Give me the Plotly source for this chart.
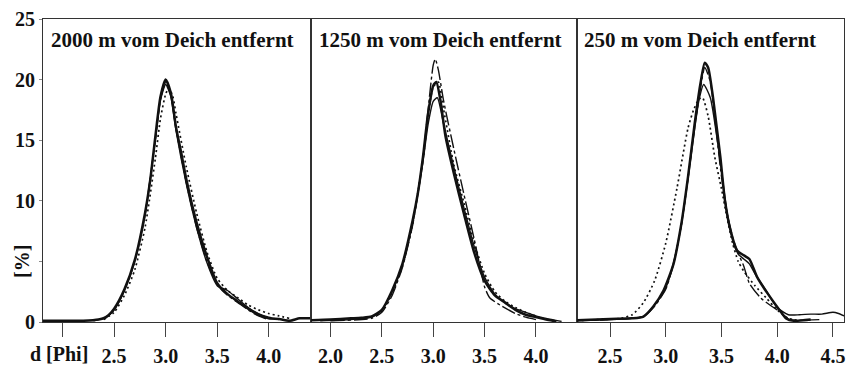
import plotly.graph_objects as go

# ---------------- data ----------------
# Panel 1: 2000 m vom Deich entfernt
p1_thick_x = [1.81, 2.0, 2.2, 2.35, 2.42, 2.5, 2.6, 2.7, 2.8, 2.85, 2.9, 2.95, 3.0, 3.05, 3.1, 3.15, 3.2, 3.3, 3.4, 3.5, 3.6, 3.7, 3.8, 3.9, 4.0, 4.1, 4.2, 4.3, 4.41]
p1_thick_y = [0.1, 0.1, 0.1, 0.2, 0.4, 1.1, 2.7, 5.1, 9.0, 11.7, 15.3, 18.6, 20.0, 18.9, 16.1, 14.0, 11.8, 8.2, 5.4, 3.2, 2.3, 1.7, 1.1, 0.6, 0.3, 0.25, 0.1, 0.3, 0.3]
p1_thin_x = [2.3, 2.42, 2.5, 2.6, 2.7, 2.8, 2.9, 2.95, 3.0, 3.05, 3.1, 3.2, 3.3, 3.4, 3.5, 3.6, 3.7, 3.8, 3.9, 4.0, 4.1]
p1_thin_y = [0.1, 0.4, 1.0, 2.6, 5.0, 8.8, 15.0, 18.3, 19.6, 18.6, 15.8, 11.4, 7.8, 4.9, 3.0, 2.6, 1.9, 1.2, 0.7, 0.4, 0.2]
p1_dot_x = [2.4, 2.5, 2.6, 2.7, 2.8, 2.9, 2.95, 3.0, 3.03, 3.07, 3.1, 3.2, 3.3, 3.4, 3.5, 3.6, 3.7, 3.8, 3.9, 4.0, 4.1, 4.2]
p1_dot_y = [0.2, 0.8, 2.2, 4.3, 7.8, 13.5, 16.8, 18.8, 19.3, 18.6, 17.2, 12.8, 9.0, 5.8, 3.6, 2.6, 2.0, 1.4, 1.0, 0.7, 0.5, 0.3]
p1_dd_x = [2.4, 2.5, 2.6, 2.7, 2.8, 2.9, 2.95, 3.0, 3.05, 3.1, 3.2, 3.3, 3.4, 3.5, 3.6, 3.7, 3.8, 3.9, 4.0]
p1_dd_y = [0.2, 1.0, 2.6, 5.0, 8.9, 15.1, 18.4, 19.8, 18.7, 16.0, 11.5, 7.8, 5.0, 3.1, 2.2, 1.6, 1.0, 0.5, 0.2]

# Panel 2: 1250 m vom Deich entfernt
p2_thick_x = [1.81, 2.0, 2.2, 2.3, 2.4, 2.5, 2.6, 2.7, 2.8, 2.85, 2.9, 2.95, 3.0, 3.03, 3.07, 3.12, 3.2, 3.3, 3.4, 3.5, 3.6, 3.7, 3.8, 3.9, 4.0, 4.1, 4.2]
p2_thick_y = [0.15, 0.2, 0.3, 0.35, 0.45, 1.0, 2.6, 4.8, 8.4, 10.6, 13.6, 17.2, 19.5, 19.8, 18.3, 15.3, 12.3, 8.9, 5.7, 3.4, 2.2, 1.6, 1.0, 0.6, 0.4, 0.2, 0.05]
p2_thin_x = [1.9, 2.2, 2.4, 2.5, 2.6, 2.7, 2.8, 2.9, 2.95, 3.0, 3.04, 3.1, 3.2, 3.3, 3.4, 3.5, 3.6, 3.7, 3.8, 3.9, 4.0, 4.1, 4.25]
p2_thin_y = [0.1, 0.2, 0.4, 1.0, 2.5, 4.7, 8.2, 13.2, 16.3, 18.2, 18.5, 16.4, 12.8, 9.4, 6.2, 3.7, 2.3, 1.6, 1.1, 0.8, 0.5, 0.3, 0.05]
p2_dot_x = [2.4, 2.5, 2.6, 2.7, 2.8, 2.9, 2.95, 3.0, 3.05, 3.1, 3.2, 3.3, 3.4, 3.5, 3.6, 3.7, 3.8, 3.9, 4.0]
p2_dot_y = [0.4, 0.9, 2.4, 4.6, 8.2, 13.4, 17.0, 19.4, 19.8, 17.6, 13.0, 9.8, 6.5, 4.0, 2.5, 1.7, 1.2, 0.8, 0.5]
p2_dd_x = [2.0, 2.4, 2.5, 2.6, 2.7, 2.8, 2.9, 2.95, 3.0, 3.02, 3.05, 3.1, 3.2, 3.3, 3.4, 3.45, 3.5, 3.55, 3.65, 3.8, 3.9, 4.0]
p2_dd_y = [0.1, 0.3, 0.8, 2.2, 4.5, 8.0, 13.5, 17.5, 21.2, 21.7, 20.8, 18.3, 14.3, 10.5, 6.8, 4.8, 2.9, 2.0, 1.4, 0.7, 0.4, 0.2]

# Panel 3: 250 m vom Deich entfernt
p3_thick_x = [2.2, 2.5, 2.7, 2.8, 2.89, 2.98, 3.07, 3.14, 3.2, 3.26, 3.31, 3.35, 3.38, 3.42, 3.45, 3.49, 3.53, 3.58, 3.64, 3.7, 3.75, 3.82, 3.91, 4.02, 4.08, 4.15, 4.3]
p3_thick_y = [0.15, 0.25, 0.3, 0.45, 1.3, 2.6, 4.8, 8.1, 12.0, 16.4, 19.6, 21.4, 21.0, 18.8, 16.6, 13.6, 10.1, 7.6, 5.9, 5.5, 5.2, 3.7, 2.4, 1.0, 0.3, 0.1, 0.2]
p3_thin_x = [2.3, 2.6, 2.8, 2.9, 3.0, 3.07, 3.14, 3.2, 3.26, 3.3, 3.34, 3.4, 3.45, 3.5, 3.55, 3.6, 3.65, 3.7, 3.75, 3.8, 3.9, 4.0, 4.1, 4.2, 4.3, 4.4, 4.5, 4.55, 4.6]
p3_thin_y = [0.15, 0.25, 0.45, 1.4, 2.8, 4.9, 8.0, 11.8, 16.0, 18.4, 19.6, 18.5, 15.8, 12.5, 9.0, 6.8, 5.6, 5.2, 4.8, 4.0, 2.6, 1.2, 0.6, 0.6, 0.65, 0.65, 0.8, 0.7, 0.5]
p3_dot_x = [2.2, 2.4, 2.6, 2.7, 2.8, 2.9, 3.0, 3.1, 3.2, 3.25, 3.3, 3.33, 3.38, 3.44, 3.5, 3.55, 3.6, 3.65, 3.7, 3.8, 3.9, 4.0, 4.1, 4.2]
p3_dot_y = [0.1, 0.2, 0.3, 0.6, 1.6, 3.4, 6.5, 11.0, 16.0, 17.5, 18.4, 18.5, 17.0, 13.6, 11.0, 8.6, 6.5, 5.0, 4.2, 3.0, 2.0, 1.0, 0.3, 0.1]
p3_dd_x = [2.2, 2.6, 2.8, 2.9, 3.0, 3.07, 3.14, 3.2, 3.26, 3.31, 3.35, 3.4, 3.45, 3.5, 3.55, 3.6, 3.64, 3.7, 3.75, 3.85, 3.95, 4.05, 4.1, 4.2, 4.4]
p3_dd_y = [0.1, 0.25, 0.45, 1.3, 2.7, 4.8, 8.0, 11.9, 16.2, 19.2, 21.0, 19.8, 16.0, 12.0, 9.0, 7.0, 5.9, 4.6, 3.2, 2.0, 1.3, 0.7, 0.2, 0.15, 0.2]

panel_titles = ["2000 m vom Deich entfernt", "1250 m vom Deich entfernt", "250 m vom Deich entfernt"]
x_ranges = [[1.81, 4.41], [1.81, 4.40], [2.204, 4.599]]
x_tickvals = [[2.0, 2.5, 3.0, 3.5, 4.0], [2.0, 2.5, 3.0, 3.5, 4.0], [2.5, 3.0, 3.5, 4.0, 4.5]]
x_ticktext = [["", "2.5", "3.0", "3.5", "4.0"], ["2.0", "2.5", "3.0", "3.5", "4.0"], ["2.5", "3.0", "3.5", "4.0", "4.5"]]
y_tickvals = [0, 5, 10, 15, 20, 25]
y_ticktext = ["0", "", "10", "15", "20", "25"]
x_label = "d [Phi]"
y_label = "[%]"

# ---------------- figure ----------------
FONT = "Liberation Serif"
INK = "#111111"
W, H = 847, 370
ML, MR, MT, MB = 43, 3, 19, 48
domains = [[0.0, 268 / 801], [268 / 801, 534 / 801], [534 / 801, 1.0]]

fig = go.Figure()
panels = [
    (p1_thick_x, p1_thick_y, p1_thin_x, p1_thin_y, p1_dot_x, p1_dot_y, p1_dd_x, p1_dd_y),
    (p2_thick_x, p2_thick_y, p2_thin_x, p2_thin_y, p2_dot_x, p2_dot_y, p2_dd_x, p2_dd_y),
    (p3_thick_x, p3_thick_y, p3_thin_x, p3_thin_y, p3_dot_x, p3_dot_y, p3_dd_x, p3_dd_y),
]
styles = [
    dict(width=1.7, dash="2px,3px"),
    dict(width=1.4, dash="14px,3px,3px,3px"),
    dict(width=1.4, dash="solid"),
    dict(width=2.5, dash="solid"),
]
for i, pdat in enumerate(panels):
    xa = "x" if i == 0 else f"x{i+1}"
    ya = "y" if i == 0 else f"y{i+1}"
    series = [(pdat[4], pdat[5]), (pdat[6], pdat[7]), (pdat[2], pdat[3]), (pdat[0], pdat[1])]
    for (sx, sy), st in zip(series, styles):
        fig.add_trace(go.Scatter(x=sx, y=sy, mode="lines", xaxis=xa, yaxis=ya,
                                 line=dict(color=INK, width=st["width"], dash=st["dash"], shape="spline", smoothing=0.6),
                                 showlegend=False, hoverinfo="skip"))

layout = dict(
    width=W, height=H, margin=dict(l=ML, r=MR, t=MT, b=MB),
    paper_bgcolor="white", plot_bgcolor="white", showlegend=False,
    font=dict(family=FONT, color=INK, size=20),
)
for i in range(3):
    xk = "xaxis" if i == 0 else f"xaxis{i+1}"
    yk = "yaxis" if i == 0 else f"yaxis{i+1}"
    xa_anchor = "y" if i == 0 else f"y{i+1}"
    ya_anchor = "x" if i == 0 else f"x{i+1}"
    layout[xk] = dict(domain=domains[i], anchor=xa_anchor, range=x_ranges[i],
                      tickvals=x_tickvals[i], ticktext=x_ticktext[i],
                      ticks="outside", ticklen=14, tickwidth=1, tickcolor="#444",
                      ticklabelstandoff=2,
                      showline=True, linecolor="#333", linewidth=1, mirror=True,
                      showgrid=False, zeroline=False,
                      tickfont=dict(family=FONT, size=20, weight="bold", color=INK))
    ycfg = dict(domain=[0, 1], anchor=ya_anchor, range=[0, 25],
                showline=True, linecolor="#333", linewidth=1, mirror=True,
                showgrid=False, zeroline=False)
    if i == 0:
        ycfg.update(tickvals=y_tickvals, ticktext=y_ticktext, ticks="outside", ticklen=3,
                    tickcolor="#888", tickwidth=1,
                    tickfont=dict(family=FONT, size=20, weight="bold", color=INK))
    else:
        ycfg.update(showticklabels=False, ticks="")
    layout[yk] = ycfg

fig.update_layout(**layout)

def px2paper(px, py):
    return (px - ML) / (W - ML - MR), (H - MB - py) / (H - MT - MB)

ann = []
for title, left_px in zip(panel_titles, [49, 316.7, 581.7]):
    ax, ay = px2paper(left_px, 40)
    ann.append(dict(text=title, x=ax, y=ay, xref="paper", yref="paper", xanchor="left", yanchor="middle",
                    showarrow=False, font=dict(family=FONT, size=21, weight="bold", color=INK)))
ax, ay = px2paper(22, 262)
ann.append(dict(text=y_label, x=ax, y=ay, xref="paper", yref="paper", xanchor="center", yanchor="middle",
                textangle=-90, showarrow=False, font=dict(family=FONT, size=20, weight="bold", color=INK)))
ax, ay = px2paper(59, 354)
ann.append(dict(text=x_label, x=ax, y=ay, xref="paper", yref="paper", xanchor="center", yanchor="middle",
                showarrow=False, font=dict(family=FONT, size=20, weight="bold", color=INK)))
fig.update_layout(annotations=ann)

fig.write_html("out.html")
